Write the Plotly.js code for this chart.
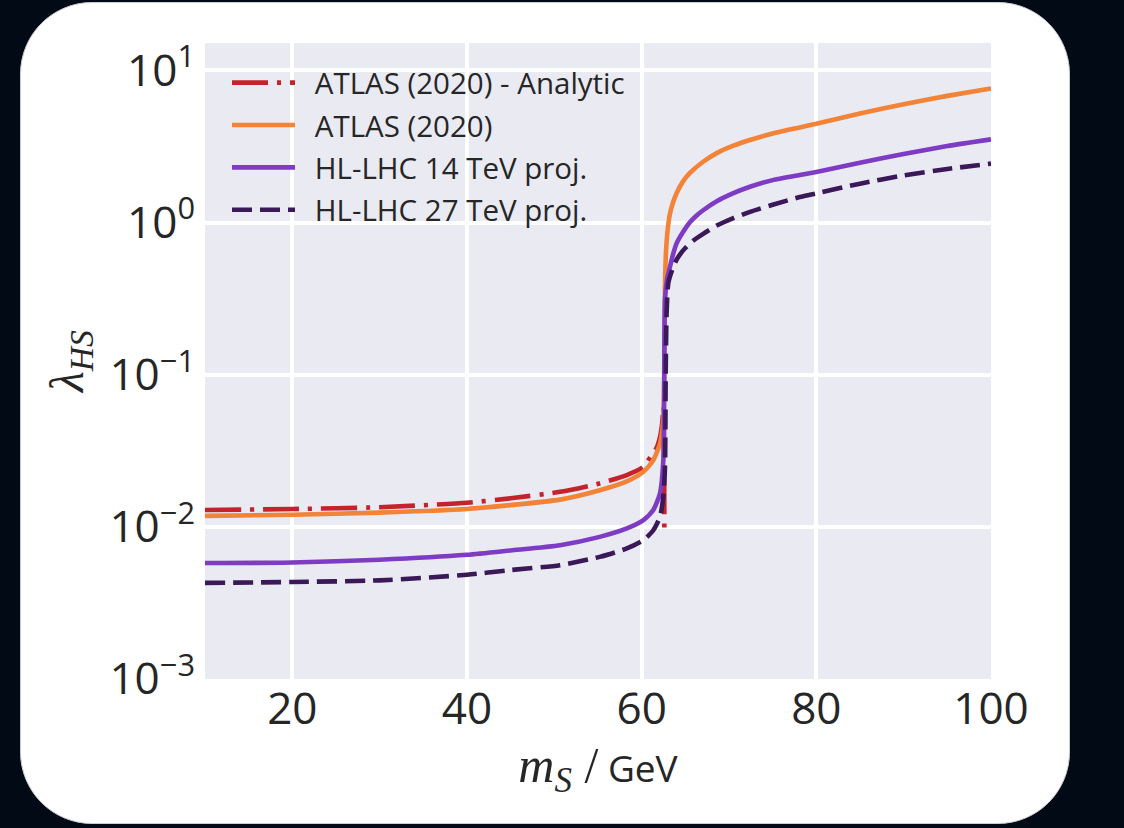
<!DOCTYPE html>
<html>
<head>
<meta charset="utf-8">
<script src="https://cdn.plot.ly/plotly-3.0.1.min.js"></script>
<style>
  html, body { margin: 0; padding: 0; background: #020a16; width: 1124px; height: 828px; overflow: hidden; }
  #card { position: absolute; left: 20px; top: 2px; width: 1050px; height: 822px; background: #ffffff; border-radius: 72px; box-sizing: border-box; border: 1px solid #c9cdd3; }
  #plot { position: absolute; left: 0; top: 0; width: 1124px; height: 828px; }
</style>
</head>
<body>
<div id="card"></div>
<div id="plot"></div>
<script>
// ATLAS (2020) - Analytic
const analyticX = [10, 20, 30, 40, 45, 50.65, 55.2, 58.3, 60.2, 61.0, 61.7, 62.1, 62.35, 62.5, 62.6];
const analyticY = [0.0129, 0.0131, 0.01345, 0.0144, 0.0154, 0.0170, 0.0193, 0.0219, 0.0248, 0.0288, 0.033, 0.039, 0.048, 0.0614, 0.0099];

// ATLAS (2020)
const atlasX = [10, 20, 30, 40, 45, 50.65, 55.2, 58.3, 60.2, 61.33, 62.1, 62.48, 62.6, 62.67, 62.75, 62.87, 63.05, 63.25, 63.6, 64.0, 64.7, 65.5, 67, 68.6, 70.5, 72.4, 75, 78.1, 80, 85, 90, 95, 100];
const atlasY = [0.0118, 0.0120, 0.0124, 0.0131, 0.0139, 0.0151, 0.0174, 0.0199, 0.0230, 0.0274, 0.0353, 0.050, 0.12, 0.38, 0.58, 0.77, 0.97, 1.15, 1.36, 1.56, 1.85, 2.11, 2.5, 2.86, 3.2, 3.49, 3.85, 4.22, 4.46, 5.2, 6.0, 6.8, 7.6];

// HL-LHC 14 TeV projection
const hl14X = [10, 20, 30, 40, 45, 50.65, 55.2, 58.3, 60.2, 61.33, 62.1, 62.48, 62.58, 62.67, 62.9, 63.25, 63.6, 64.0, 64.7, 65.5, 66.2, 67, 68.6, 70.5, 72.4, 75, 78.1, 80, 85, 90, 95, 100];
const hl14Y = [0.00578, 0.00583, 0.00608, 0.00655, 0.0070, 0.00758, 0.00859, 0.00976, 0.01107, 0.0129, 0.0166, 0.0274, 0.09, 0.31, 0.42, 0.514, 0.62, 0.73, 0.86, 1.0, 1.1, 1.2, 1.38, 1.56, 1.72, 1.9, 2.05, 2.15, 2.47, 2.82, 3.18, 3.52];

// HL-LHC 27 TeV projection
const hl27X = [10, 20, 30, 40, 45, 50.65, 55.2, 58.3, 60.2, 61.33, 62.1, 62.48, 62.67, 62.75, 62.85, 63.05, 63.5, 64.0, 64.5, 65.0, 65.9, 67, 68.6, 70.5, 72.4, 75, 78.1, 80, 85, 90, 95, 100];
const hl27Y = [0.00428, 0.00434, 0.00445, 0.00484, 0.0052, 0.0056, 0.00635, 0.00721, 0.00818, 0.0095, 0.01164, 0.0158, 0.0248, 0.1, 0.25, 0.40, 0.49, 0.57, 0.63, 0.68, 0.76, 0.84, 0.955, 1.07, 1.175, 1.31, 1.47, 1.555, 1.8, 2.04, 2.25, 2.44];

const seriesNames = ['ATLAS (2020) - Analytic', 'ATLAS (2020)', 'HL-LHC 14 TeV proj.', 'HL-LHC 27 TeV proj.'];
const xTickVals = [20, 40, 60, 80, 100];
const xTickText = ['20', '40', '60', '80', '100'];
const yTickVals = [0.001, 0.01, 0.1, 1, 10];
const yTickText = ['10<sup>−3</sup>', '10<sup>−2</sup>', '10<sup>−1</sup>', '10<sup>0</sup>', '10<sup>1</sup>'];

const LW = 4.6;
const PAD = '\u2002';
const traces = [
  { x: analyticX, y: analyticY, name: PAD + seriesNames[0], legendgroup: 'a',
    line: { color: '#c4232b', width: LW, dash: '36px,9px,4px,9px', shape: 'spline', smoothing: 0.6 } },
  { x: atlasX, y: atlasY, name: PAD + seriesNames[1], legendgroup: 'b',
    line: { color: '#f28337', width: LW, shape: 'spline', smoothing: 0.6 } },
  { x: hl14X, y: hl14Y, name: PAD + seriesNames[2], legendgroup: 'c',
    line: { color: '#7e3bc4', width: LW, shape: 'spline', smoothing: 0.6 } },
  { x: hl27X, y: hl27Y, name: PAD + seriesNames[3], legendgroup: 'd',
    line: { color: '#3b1858', width: LW, dash: '20px,8px', shape: 'spline', smoothing: 0.6 } }
].map(t => Object.assign({ type: 'scatter', mode: 'lines', hoverinfo: 'skip' }, t));

const layout = {
  width: 1124, height: 828,
  margin: { l: 205, r: 133, t: 43, b: 149 },
  paper_bgcolor: 'rgba(0,0,0,0)',
  plot_bgcolor: '#eaeaf2',
  font: { family: 'Open Sans, sans-serif', color: '#262626' },
  showlegend: true,
  legend: {
    x: 0.028, y: 0.978, xanchor: 'left', yanchor: 'top',
    bgcolor: 'rgba(0,0,0,0)', borderwidth: 0,
    font: { size: 29.5, color: '#262626', family: 'Open Sans, sans-serif' },
    traceorder: 'grouped', tracegroupgap: 1, itemwidth: 63
  },
  xaxis: {
    range: [10, 100], tickvals: xTickVals, ticktext: xTickText,
    showgrid: true, gridcolor: '#ffffff', gridwidth: 4,
    zeroline: false, showline: false, ticks: '',
    tickfont: { size: 44, color: '#262626' },
    ticklabelstandoff: 0,
    title: { text: '<span style="font-family:\'Liberation Serif\';font-size:50px"><i>m</i><sub><i>S</i></sub> /</span> GeV',
             font: { size: 37, color: '#262626', family: 'Open Sans, sans-serif' }, standoff: 0 }
  },
  yaxis: {
    type: 'log', range: [-3, 1.18], tickvals: yTickVals, ticktext: yTickText,
    showgrid: true, gridcolor: '#ffffff', gridwidth: 4,
    zeroline: false, showline: false, ticks: '',
    tickfont: { size: 44, color: '#262626' },
    ticklabelstandoff: 9,
    title: { text: '<i>λ</i><sub><i>HS</i></sub>',
             font: { size: 48, color: '#262626', family: 'Liberation Serif, serif' }, standoff: 10 }
  }
};

Plotly.newPlot('plot', traces, layout, { displayModeBar: false, staticPlot: true });
</script>
</body>
</html>
